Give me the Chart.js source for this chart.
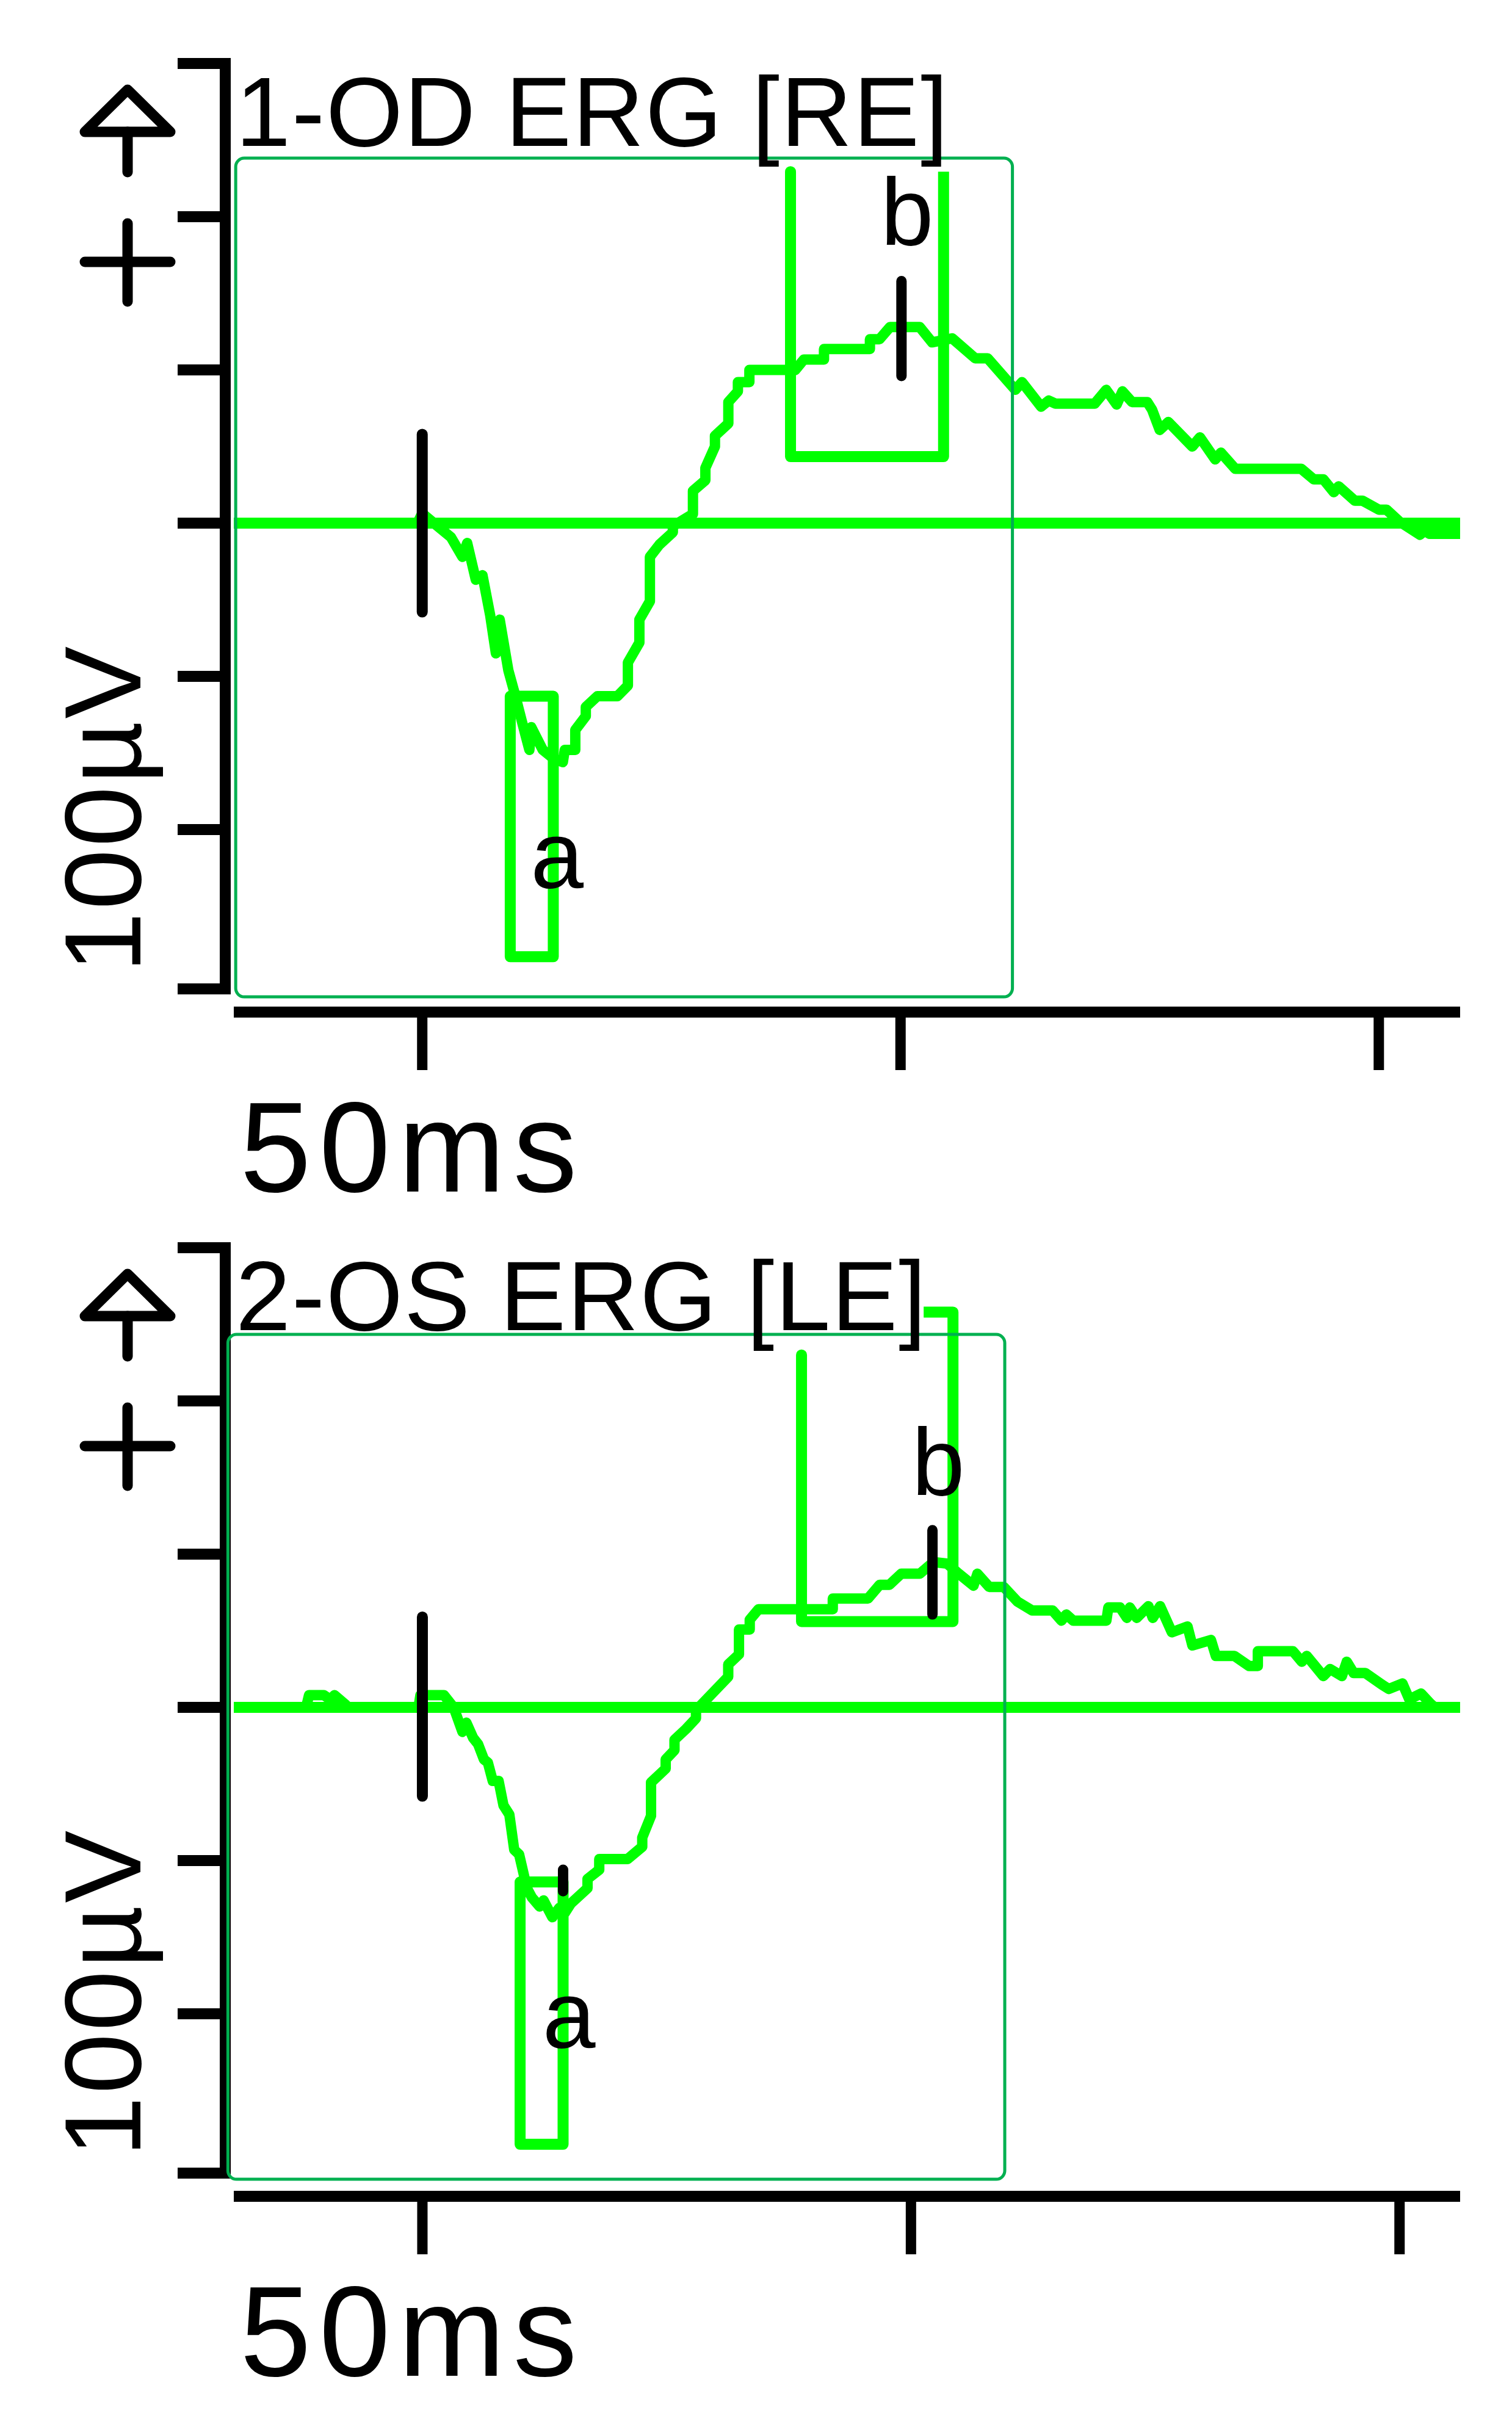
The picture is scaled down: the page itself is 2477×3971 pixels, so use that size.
<!DOCTYPE html>
<html>
<head>
<meta charset="utf-8">
<script src="https://cdn.jsdelivr.net/npm/chart.js@4.4.1/dist/chart.umd.min.js"></script>
<style>
html, body { margin: 0; padding: 0; background: #fff; }
body { width: 2477px; height: 3971px; position: relative; overflow: hidden; }
.panel { position: absolute; left: 0; width: 2477px; }
#odPanel { top: 0; height: 1960px; }
#osPanel { top: 1940px; height: 2031px; }
</style>
</head>
<body>
<div class="panel" id="odPanel"><canvas id="odChart"></canvas></div>
<div class="panel" id="osPanel"><canvas id="osChart"></canvas></div>
<script>
// axis ticks (ms / µV)
const xTicksMs = [0, 50, 100];
const yTicksUv = [150, 100, 50, 0, -50, -100, -152];

// shown time window of each recording (ms)
const odRangeMs = [-19.7, 108.5];
const osRangeMs = [-19.3, 106.2];

// right eye trace [ms, µV]
const odTrace = [
  [-19.7, 0], [-0.5, 0], [0, 3.2], [1.8, -1.5], [3.0, -4.6], [4.2, -11], [4.7, -6.5],
  [5.6, -18.5], [6.3, -17], [7.1, -30], [7.7, -42.5], [8.1, -31.5], [9.0, -48], [9.7, -56],
  [10.4, -64.5], [11.2, -74], [11.4, -66.6], [12.6, -74], [13.8, -77], [14.7, -78],
  [14.9, -74], [16.0, -74], [16.0, -67.5], [17.1, -63], [17.1, -60], [18.3, -56.5],
  [20.4, -56.5], [21.5, -53], [21.5, -45.5], [22.7, -39], [22.7, -31.5], [23.8, -25.5],
  [23.8, -11], [24.8, -7], [26.2, -3], [26.2, -1], [28.3, 3], [28.3, 10.5], [29.6, 14],
  [29.6, 18], [30.6, 25], [30.6, 28.5], [32.0, 32.5], [32.0, 39.5], [33.0, 43], [33.0, 46],
  [34.2, 46], [34.2, 50], [39.0, 50], [39.9, 53.4], [42.0, 53.4], [42.0, 56.8], [46.8, 56.8],
  [46.8, 60], [47.8, 60], [48.9, 64], [52.0, 64], [53.3, 59], [55.4, 60.3], [57.8, 53.8],
  [59.1, 53.8], [62.0, 43.5], [62.7, 46], [64.7, 38], [65.5, 40], [66.2, 39], [70.3, 39],
  [71.5, 43.5], [72.6, 38.7], [73.2, 43], [74.2, 39.5], [75.8, 39.5], [76.3, 37], [77.1, 30.4],
  [78.0, 33], [80.5, 25], [81.3, 28], [82.9, 20.8], [83.5, 23], [85.0, 17.7], [91.9, 17.7],
  [93.2, 14.3], [94.2, 14.3], [95.3, 10.1], [95.8, 12], [97.5, 7.3], [98.3, 7.3], [100.0, 4.4],
  [100.8, 4.4], [102.2, 0.4], [104.3, -3.8], [104.8, -2.5], [105.3, -3.5], [108.5, -3.5]
];

// left eye trace [ms, µV]
const osTrace = [
  [-19.3, 0], [-11.9, 0], [-11.6, 4], [-10.1, 4], [-9.4, 2.5], [-9.0, 4], [-7.9, 1], [-7.6, 0],
  [-0.4, 0], [-0.2, 4], [2.2, 4], [3.2, 0], [4.1, -8], [4.5, -5], [5.2, -10], [5.7, -12],
  [6.3, -17], [6.7, -18], [7.2, -24], [7.8, -24], [8.3, -32], [8.9, -35], [9.4, -46.5],
  [9.9, -48], [10.7, -59], [11.2, -62], [12.0, -65], [12.4, -63], [13.3, -68.5], [14.0, -65.5],
  [14.6, -67], [15.2, -64], [16.9, -59], [16.9, -56], [18.1, -53], [18.1, -49.5], [21.0, -49.5],
  [22.5, -45.5], [22.5, -42.5], [23.4, -35.4], [23.4, -24.5], [24.9, -20], [24.9, -17],
  [25.8, -14], [25.8, -10.6], [27.0, -7], [28.0, -3.6], [28.0, -1], [29.5, 4], [31.3, 10],
  [31.3, 14], [32.4, 17.3], [32.4, 25.4], [33.5, 25.4], [33.5, 28.6], [34.4, 32], [42.0, 32],
  [42.0, 35.5], [45.6, 35.5], [46.8, 40], [47.8, 40], [49.0, 43.6], [50.9, 43.6], [52.3, 47.4],
  [53.7, 46.9], [54.9, 43.6], [56.4, 39.7], [56.8, 43.6], [58.0, 39.3], [59.5, 39.3],
  [60.9, 34.5], [62.4, 31.6], [64.5, 31.6], [65.4, 28.3], [65.9, 30.3], [66.6, 28.3],
  [70.0, 28.3], [70.2, 32.6], [71.4, 32.6], [72.1, 29.2], [72.4, 32.6], [73.1, 29.2],
  [74.3, 33], [74.75, 29.2], [75.5, 33], [76.7, 24.5], [78.3, 26.4], [78.8, 20.2], [80.7, 22],
  [81.2, 16.8], [83.1, 16.8], [84.6, 13.5], [85.5, 13.5], [85.5, 18.3], [89.1, 18.3],
  [90.0, 14.9], [90.5, 16.8], [92.2, 10.2], [92.9, 12.5], [94.1, 10.2], [94.6, 14.9],
  [95.3, 11.2], [96.5, 11.2], [98.2, 7.4], [98.9, 6.0], [100.3, 7.8], [101.0, 2.6],
  [102.2, 4.5], [103.2, 1.1], [103.6, 0], [106.0, 0]
];

// a / b cursor windows [ms from, ms to, µV top, µV bottom]
const odAWindow = [9.2, 13.7, -56.5, -141.5];
const odBWindow = [38.5, 54.5, 114.7, 21.7];
const osAWindow = [10.0, 14.4, -57, -142.6];
// OS b cursor: left top, bottom, right top, hook end [ms, µV]
const osBCursor = [[38.8, 115], [38.8, 28], [54.3, 28], [54.3, 129], [51.3, 129]];

// black markers [ms, µV top, µV bottom]
const odFlash = [0, 29, -29];
const odBPeak = [50.1, 79, 48];
const osFlash = [0, 29.5, -29];
const osBPeak = [52.2, 57.8, 30.3];
const osAPeak = [14.4, -53, -60];

// a / b label anchors [ms, µV]
const odLabelA = [14.1, -119];
const odLabelB = [50.7, 90.8];
const osLabelA = [15.0, -111];
const osLabelB = [52.8, 69.3];

// selection frame [ms from, ms to, µV top, µV bottom]
const odFrame = [-19.5, 61.7, 119.1, -154.6];
const osFrame = [-19.9, 59.6, 121.7, -154];

const GREEN = '#00ff00';
const FONT = '"Liberation Sans", Arial, sans-serif';

function pts(list) {
  return list.map(p => ({ x: p[0], y: p[1] }));
}

function lineSet(list, color, width, order) {
  return {
    data: pts(list),
    borderColor: color,
    borderWidth: width,
    pointRadius: 0,
    tension: 0,
    fill: false,
    order: order,
    borderJoinStyle: 'round'
  };
}

function windowBox(w) {
  return [[w[0], w[2]], [w[0], w[3]], [w[1], w[3]], [w[1], w[2]], [w[0], w[2]]];
}

function openBox(w) {
  return [[w[0], w[2]], [w[0], w[3]], [w[1], w[3]], [w[1], w[2]]];
}

function marker(m) {
  return [[m[0], m[1]], [m[0], m[2]]];
}

function spaced(ctx, px) {
  if ('letterSpacing' in ctx) ctx.letterSpacing = px + 'px';
}

const ergDecor = {
  id: 'ergDecor',
  beforeDatasetsDraw(chart) {
    const ctx = chart.ctx;
    const ys = chart.scales.y, xs = chart.scales.x;
    const area = chart.chartArea;
    ctx.save();
    ctx.strokeStyle = '#000';
    ctx.lineCap = 'butt';

    // vertical amplitude bar
    const ax = area.left - 14;
    ctx.lineWidth = 18;
    ctx.beginPath();
    ctx.moveTo(ax, ys.getPixelForValue(yTicksUv[0]) - 9);
    ctx.lineTo(ax, ys.getPixelForValue(yTicksUv[yTicksUv.length - 1]) + 9);
    ctx.stroke();
    yTicksUv.forEach(v => {
      const y = ys.getPixelForValue(v);
      ctx.beginPath();
      ctx.moveTo(ax - 78, y);
      ctx.lineTo(ax + 9, y);
      ctx.stroke();
    });

    // time axis
    const ay = area.bottom + 33;
    ctx.beginPath();
    ctx.moveTo(area.left, ay);
    ctx.lineTo(area.right, ay);
    ctx.stroke();
    ctx.lineWidth = 17;
    xTicksMs.forEach(t => {
      const x = xs.getPixelForValue(t);
      ctx.beginPath();
      ctx.moveTo(x, ay);
      ctx.lineTo(x, ay + 95);
      ctx.stroke();
    });

    // polarity arrow and plus sign
    ctx.lineWidth = 17;
    ctx.lineJoin = 'round';
    ctx.lineCap = 'round';
    ctx.beginPath();
    ctx.moveTo(209, 147);
    ctx.lineTo(139, 216);
    ctx.lineTo(279, 216);
    ctx.closePath();
    ctx.stroke();
    ctx.beginPath();
    ctx.moveTo(209, 216);
    ctx.lineTo(209, 282);
    ctx.moveTo(209, 366);
    ctx.lineTo(209, 494);
    ctx.moveTo(139, 429);
    ctx.lineTo(279, 429);
    ctx.stroke();
    ctx.restore();
  },
  afterDatasetsDraw(chart, args, opts) {
    const ctx = chart.ctx;
    const ys = chart.scales.y, xs = chart.scales.x;
    ctx.save();

    // selection frame
    const f = opts.frame;
    const x0 = xs.getPixelForValue(f[0]), x1 = xs.getPixelForValue(f[1]);
    const y0 = ys.getPixelForValue(f[2]), y1 = ys.getPixelForValue(f[3]);
    ctx.strokeStyle = '#00b050';
    ctx.lineWidth = 5;
    ctx.beginPath();
    ctx.roundRect(x0, y0, x1 - x0, y1 - y0, 14);
    ctx.stroke();

    ctx.fillStyle = '#000';
    ctx.textBaseline = 'alphabetic';

    // title
    ctx.textAlign = 'left';
    ctx.font = '162px ' + FONT;
    spaced(ctx, 2);
    ctx.fillText(opts.title, 386, 239);

    // scale labels
    ctx.font = '210px ' + FONT;
    spaced(ctx, 13);
    ctx.fillText('50ms', 393, 1952);
    ctx.save();
    ctx.translate(230, 1324);
    ctx.rotate(-Math.PI / 2);
    ctx.textAlign = 'center';
    ctx.font = '178px ' + FONT;
    spaced(ctx, 4);
    ctx.fillText('100µV', 0, 0);
    ctx.restore();

    // a / b labels
    spaced(ctx, 0);
    ctx.textAlign = 'center';
    ctx.font = '156px ' + FONT;
    ctx.fillText('a', xs.getPixelForValue(opts.labelA[0]), ys.getPixelForValue(opts.labelA[1]));
    ctx.fillText('b', xs.getPixelForValue(opts.labelB[0]), ys.getPixelForValue(opts.labelB[1]));
    ctx.restore();
  }
};

function buildChart(id, range, datasets, decor, bottomPad) {
  return new Chart(document.getElementById(id).getContext('2d'), {
    type: 'line',
    data: { datasets: datasets },
    options: {
      responsive: true,
      maintainAspectRatio: false,
      animation: false,
      devicePixelRatio: 1,
      layout: { padding: { left: 383, right: 85, top: 104, bottom: bottomPad } },
      scales: {
        x: { type: 'linear', min: range[0], max: range[1], display: false },
        y: { type: 'linear', min: -153, max: 150, display: false }
      },
      plugins: {
        legend: { display: false },
        tooltip: { enabled: false },
        ergDecor: decor
      }
    },
    plugins: [ergDecor]
  });
}

// Registro OD (ojo derecho)
buildChart('odChart', odRangeMs, [
  lineSet(marker(odFlash), '#000', 18, 0),
  lineSet(marker(odBPeak), '#000', 17, 0),
  lineSet(odTrace, GREEN, 17, 1),
  lineSet([[odRangeMs[0], 0], [odRangeMs[1], 0]], GREEN, 18, 2),
  lineSet(windowBox(odAWindow), GREEN, 18, 3),
  lineSet(openBox(odBWindow), GREEN, 18, 3)
], { title: '1-OD ERG [RE]', frame: odFrame, labelA: odLabelA, labelB: odLabelB }, 335);

// Registro OS (ojo izquierdo)
buildChart('osChart', osRangeMs, [
  lineSet(marker(osFlash), '#000', 18, 0),
  lineSet(marker(osBPeak), '#000', 17, 0),
  lineSet(marker(osAPeak), '#000', 17, 0),
  lineSet(osTrace, GREEN, 17, 1),
  lineSet([[osRangeMs[0], 0], [osRangeMs[1], 0]], GREEN, 18, 2),
  lineSet(windowBox(osAWindow), GREEN, 18, 3),
  lineSet(osBCursor, GREEN, 18, 3)
], { title: '2-OS ERG [LE]', frame: osFrame, labelA: osLabelA, labelB: osLabelB }, 406);
</script>
</body>
</html>
